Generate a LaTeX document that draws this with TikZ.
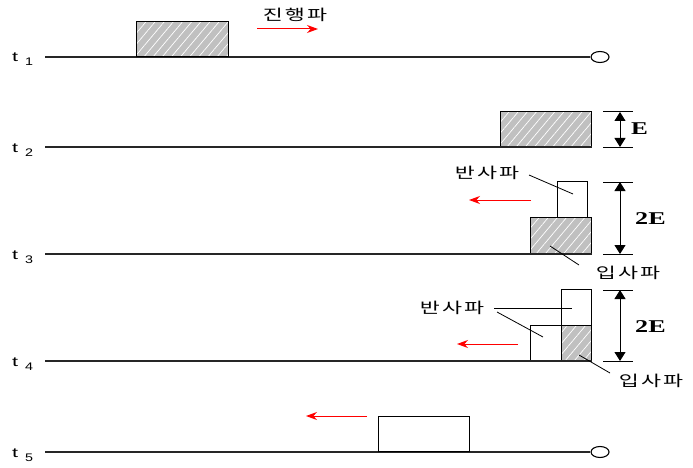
\documentclass[tikz,border=0pt]{standalone}
\usepackage{fontspec}
\setmainfont{Liberation Serif}
\newfontfamily\sansf{Liberation Sans}
\newfontfamily\krf[LetterSpace=10]{Noto Sans CJK KR}
\usetikzlibrary{shapes.geometric,patterns.meta,arrows.meta}
\definecolor{hatchgray}{RGB}{192,192,192}
\newcommand{\kr}[1]{\scalebox{1.45}[1]{#1}}
\newcommand{\tl}[1]{\scalebox{1.6}[1]{\fontsize{13.5}{13.5}\selectfont t}\hspace{7pt}\raisebox{-4pt}{\scalebox{1.3}[1]{\fontsize{11}{11}\selectfont #1}}}
\begin{document}
\begin{tikzpicture}[x=1pt,y=-1pt,
  axisline/.style={line width=1.2pt,draw=black!85},
  hbox/.style={draw=black,line width=1.1pt,inner sep=0pt,anchor=south west,
    preaction={fill=hatchgray},
    pattern={Lines[angle=50,distance=7pt,line width=0.7pt]},pattern color=white},
  wbox/.style={draw=black,line width=1.1pt,inner sep=0pt,anchor=south west,fill=white},
  endmark/.style={ellipse,draw=black,line width=1.1pt,fill=white,minimum width=18pt,minimum height=11pt,inner sep=0pt},
  tlab/.style={anchor=base west,inner sep=0pt,font=\sansf},
  krlab/.style={inner sep=0pt,font=\krf\fontsize{15}{15}\selectfont},
  redarrow/.style={draw=red,line width=1pt,-{Stealth[length=11pt,width=8pt]}},
  tick/.style={line width=1pt,draw=black},
  dimarrow/.style={line width=1pt,{Triangle[length=9pt,width=11pt]}-{Triangle[length=9pt,width=11pt]}},
  leader/.style={line width=0.8pt,draw=black},
  elab/.style={inner sep=0pt,font=\bfseries\fontsize{18}{18}\selectfont}
]
\useasboundingbox (0,0) rectangle (693,468);

% ---------- t1 ----------
\node[tlab] (t1) at (12,62) {\tl{1}};
\coordinate (s1) at (45,57);
\node[endmark] (e1) at (600,57) {};
\draw[axisline] (s1) -- (e1.west);
\node[hbox,minimum width=92pt,minimum height=35pt] (b1) at (136,57) {};
\node[krlab] (k1) at (295,15) {\kr{진행파}};
\coordinate (r1a) at (257,29);
\coordinate (r1b) at (318,29);
\draw[redarrow] (r1a) -- (r1b);

% ---------- t2 ----------
\node[tlab] (t2) at (12,152) {\tl{2}};
\coordinate (s2) at (45,147);
\node[hbox,minimum width=91pt,minimum height=35pt] (b2) at (500,147) {};
\draw[axisline] (s2) -- (b2.south east);
\coordinate (d2ta) at (603,112); \coordinate (d2tb) at (633,112);
\coordinate (d2ba) at (603,147); \coordinate (d2bb) at (633,147);
\draw[tick] (d2ta) -- (d2tb);
\draw[tick] (d2ba) -- (d2bb);
\coordinate (d2u) at (620,112); \coordinate (d2d) at (620,147);
\draw[dimarrow] (d2u) -- (d2d);
\node[elab,anchor=west] (E2) at (631,129) {\scalebox{1.4}[1]{E}};

% ---------- t3 ----------
\node[tlab] (t3) at (12,259) {\tl{3}};
\coordinate (s3) at (45,254);
\node[hbox,minimum width=61pt,minimum height=36pt] (b3) at (530,254) {};
\node[wbox,minimum width=30pt,minimum height=36pt] (r3) at (557,218) {};
\draw[axisline] (s3) -- (b3.south east);
\coordinate (d3ta) at (603,182); \coordinate (d3tb) at (633,182);
\coordinate (d3ba) at (603,254); \coordinate (d3bb) at (633,254);
\draw[tick] (d3ta) -- (d3tb);
\draw[tick] (d3ba) -- (d3bb);
\coordinate (d3u) at (620,182); \coordinate (d3d) at (620,254);
\draw[dimarrow] (d3u) -- (d3d);
\node[elab,anchor=west] (E3) at (635,219) {\scalebox{1.45}[1]{2E}};
\node[krlab] (k3a) at (487,173) {\kr{반사파}};
\coordinate (l3a) at (573,194);
\draw[leader] (529,175) -- (l3a);
\node[krlab] (k3b) at (628,273) {\kr{입사파}};
\coordinate (l3b) at (550,246);
\draw[leader] (l3b) -- (579,265);
\coordinate (r3a) at (531,200);
\coordinate (r3b) at (469,200);
\draw[redarrow] (r3a) -- (r3b);

% ---------- t4 ----------
\node[tlab] (t4) at (12,366) {\tl{4}};
\coordinate (s4) at (45,361);
\node[wbox,minimum width=30pt,minimum height=36pt] (r4t) at (561,326) {};
\node[hbox,minimum width=30pt,minimum height=35pt] (h4) at (561,361) {};
\node[wbox,minimum width=31pt,minimum height=35pt] (r4l) at (530,361) {};
\draw[axisline] (s4) -- (h4.south east);
\coordinate (d4ta) at (603,290); \coordinate (d4tb) at (633,290);
\coordinate (d4ba) at (603,361); \coordinate (d4bb) at (633,361);
\draw[tick] (d4ta) -- (d4tb);
\draw[tick] (d4ba) -- (d4bb);
\coordinate (d4u) at (620,290); \coordinate (d4d) at (620,361);
\draw[dimarrow] (d4u) -- (d4d);
\node[elab,anchor=west] (E4) at (635,327) {\scalebox{1.45}[1]{2E}};
\node[krlab] (k4a) at (452,308) {\kr{반사파}};
\coordinate (l4o) at (494,308);
\coordinate (l4a) at (572,308);
\coordinate (l4b) at (543,337);
\draw[leader] (l4o) -- (l4a);
\draw[leader] (497,312) -- (l4b);
\node[krlab] (k4b) at (651,381) {\kr{입사파}};
\coordinate (l4c) at (579,355);
\draw[leader] (l4c) -- (610,373);
\coordinate (r4a) at (518,344);
\coordinate (r4b) at (457,344);
\draw[redarrow] (r4a) -- (r4b);

% ---------- t5 ----------
\node[tlab] (t5) at (12,457) {\tl{5}};
\coordinate (s5) at (45,452);
\node[endmark] (e5) at (600,452) {};
\draw[axisline] (s5) -- (e5.west);
\node[wbox,minimum width=91pt,minimum height=35pt] (b5) at (378,452) {};
\coordinate (r5a) at (367,416);
\coordinate (r5b) at (306,416);
\draw[redarrow] (r5a) -- (r5b);
\end{tikzpicture}
\end{document}
